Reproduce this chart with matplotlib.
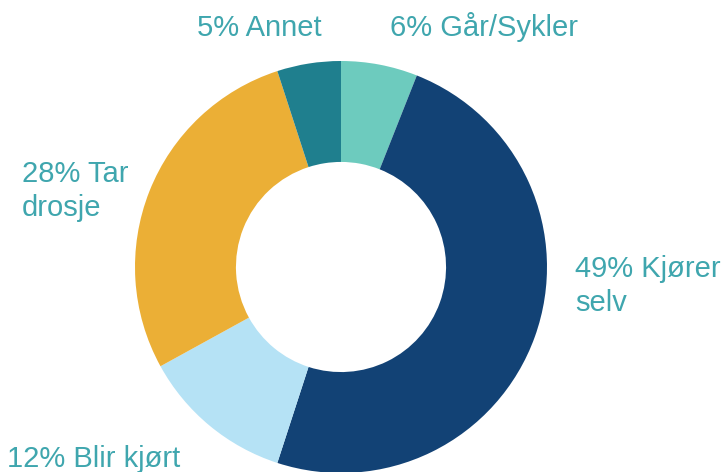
import matplotlib.pyplot as plt

plt.rcParams['font.family'] = ['Liberation Sans', 'DejaVu Sans']

labels = ['Går/Sykler', 'Kjører selv', 'Blir kjørt', 'Tar drosje', 'Annet']
shares = [6, 49, 12, 28, 5]
colors = ['#6DCBBE', '#124275', '#B5E2F5', '#EBAF36', '#1F7F8E']
text_color = '#3FA6AE'

fig = plt.figure(figsize=(7.26, 4.72), dpi=100)
ax = fig.add_axes([135 / 726, -1 / 472, 412 / 726, 412 / 472])

ax.pie(shares, colors=colors, startangle=90, counterclock=False,
       wedgeprops=dict(width=0.49, edgecolor='white', linewidth=0))
ax.set_xlim(-1, 1)
ax.set_ylim(-1, 1)
ax.set_aspect('equal')
ax.axis('off')

# label positions in pixels (left x, baseline y of first line)
spots = [(390, 36), (575, 277), (7, 467), (22, 182), (197, 36)]
for lab, val, (px, py) in zip(labels, shares, spots):
    words = f'{val}% {lab}'
    if lab in ('Kjører selv', 'Tar drosje'):
        first, second = words.rsplit(' ', 1)
        fig.text(px / 726, 1 - py / 472, first, color=text_color,
                 fontsize=21, va='baseline', ha='left')
        fig.text(px / 726, 1 - (py + 34) / 472, second, color=text_color,
                 fontsize=21, va='baseline', ha='left')
    else:
        fig.text(px / 726, 1 - py / 472, words, color=text_color,
                 fontsize=21, va='baseline', ha='left')

fig.savefig('out.png', dpi=100)
